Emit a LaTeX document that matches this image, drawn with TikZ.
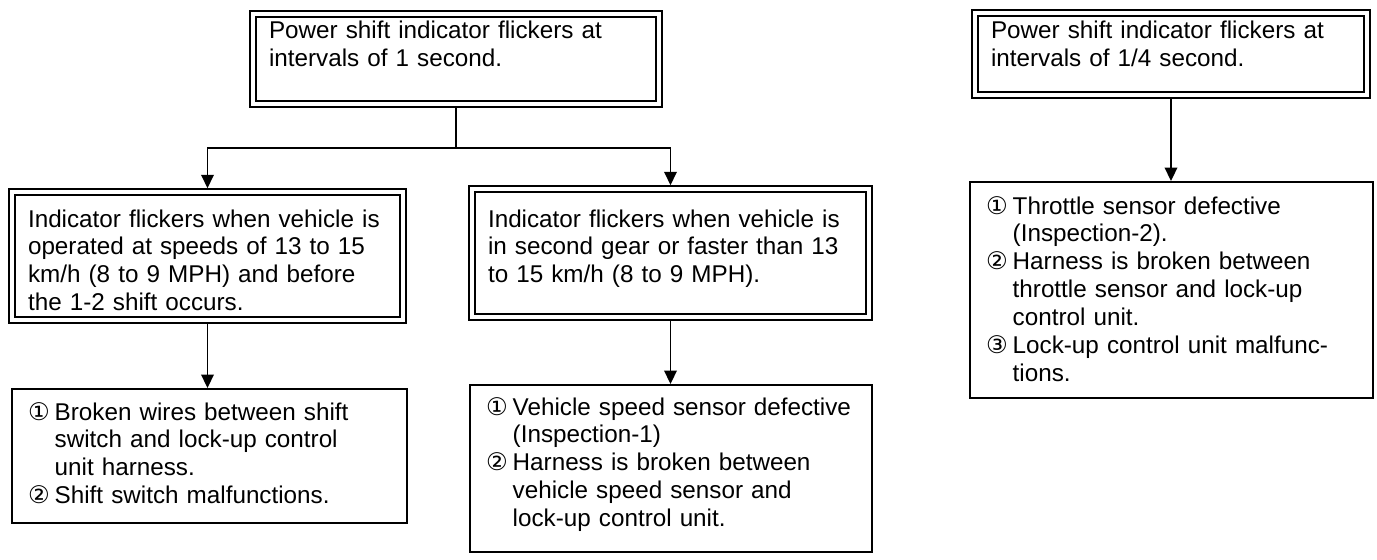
\documentclass[tikz,border=0pt]{standalone}
\usepackage{fontspec}
\setmainfont{Liberation Sans}
\newfontfamily\numfont{DejaVu Sans}
\usetikzlibrary{arrows.meta,calc,positioning}

\newcommand{\itemno}[1]{\makebox[1.1em][l]{\numfont #1}}
\newcommand{\itemgap}{\hspace*{1.1em}}

\begin{document}
\begin{tikzpicture}[x=0.02cm, y=-0.02cm, >={Triangle[width=0.25cm,length=0.27cm]}, line width=1.1pt,
    dbox/.style={draw, double, double distance=0.08cm, line width=1pt, align=left,
        inner xsep=0.32cm, inner ysep=0.15cm, outer sep=0.075cm,
        font=\fontsize{13.8}{15.9}\selectfont},
    sbox/.style={draw, line width=1.1pt, align=left,
        inner xsep=0.32cm, inner ysep=0.15cm,
        font=\fontsize{13.8}{15.9}\selectfont}]
    \useasboundingbox (0,0) rectangle (1377,560);

    % Upper boxes
    \node[dbox, text width=7.48cm, text height=0.35cm, text depth=1.15cm] (top) at (456,59)
        {Power shift indicator flickers at\\intervals of 1 second.};
    \node[dbox, text width=7.2cm, text height=0.37cm, text depth=0.97cm] (tr) at (1171,54)
        {Power shift indicator flickers at\\intervals of 1/4 second.};

    % Conditions
    \node[dbox, text width=7.18cm, text height=0.55cm, text depth=1.71cm] (midL) at (207.5,256)
        {Indicator flickers when vehicle is\\operated at speeds of 13 to 15\\km/h (8 to 9 MPH) and before\\the 1-2 shift occurs.};
    \node[dbox, text width=7.3cm, text height=0.61cm, text depth=1.65cm] (midR) at (670.5,253)
        {Indicator flickers when vehicle is\\in second gear or faster than 13\\to 15 km/h (8 to 9 MPH).};

    % Causes
    \node[sbox, text width=7.26cm, text height=0.47cm, text depth=1.91cm] (botL) at (209.5,456)
        {\itemno{①}Broken wires between shift\\\itemgap switch and lock-up control\\\itemgap unit harness.\\\itemno{②}Shift switch malfunctions.};
    \node[sbox, text width=7.4cm, text height=0.45cm, text depth=2.59cm] (botM) at (671,468.5)
        {\itemno{①}Vehicle speed sensor defective\\\itemgap (Inspection-1)\\\itemno{②}Harness is broken between\\\itemgap vehicle speed sensor and\\\itemgap lock-up control unit.};
    \node[sbox, text width=7.42cm, text height=0.49cm, text depth=3.53cm] (br) at (1171.5,290)
        {\itemno{①}Throttle sensor defective\\\itemgap (Inspection-2).\\\itemno{②}Harness is broken between\\\itemgap throttle sensor and lock-up\\\itemgap control unit.\\\itemno{③}Lock-up control unit malfunc-\\\itemgap tions.};

    % Arrows
    \coordinate (fork) at ($(top.south)+(0,40)$);
    \draw (top.south) -- (fork);
    \draw[->] (fork) -| (midL.north);
    \draw[->] (fork) -| (midR.north);
    \draw[->] (midL.south) -- (midL.south |- botL.north);
    \draw[->] (midR.south) -- (midR.south |- botM.north);
    \draw[->] (tr.south) -- (tr.south |- br.north);
\end{tikzpicture}
\end{document}
